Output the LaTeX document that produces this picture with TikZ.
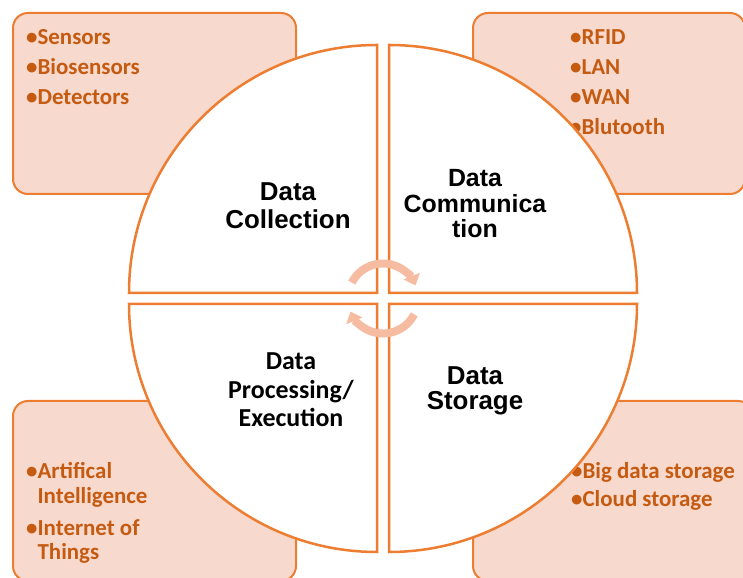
\documentclass[tikz,border=0pt]{standalone}
\usepackage{fontspec}
\setmainfont{Carlito}
\newfontfamily\headfont{Liberation Sans}
\usetikzlibrary{arrows.meta}
\definecolor{qorange}{RGB}{237,125,49}
\definecolor{qpeach}{RGB}{248,217,205}
\definecolor{qtext}{RGB}{197,90,17}
\definecolor{qarrow}{RGB}{245,188,162}
\begin{document}
\begin{tikzpicture}[x=1bp,y=1bp,
	infobox/.style={draw=qorange, line width=2bp, fill=qpeach, rounded corners=15bp, anchor=south west, inner sep=0pt},
	quarter/.style={draw=qorange, line width=2.5bp, fill=white},
	items/.style={anchor=base west, align=left, inner sep=0pt, text=qtext, font=\bfseries\fontsize{23}{30.3}\selectfont},
	title/.style={anchor=base, align=center, inner sep=0pt},
	turn/.style={draw=qarrow, line width=8bp, -{Triangle[width=17bp,length=10bp]}}]

\useasboundingbox (0,0) rectangle (743,578);

% corner boxes
\foreach \name\x\y\w\h in {collbox/12/383/283/181,commbox/472/383/272/181,procbox/12/-4/283/180,storbox/472/-4/280/180}{
	\node[infobox, minimum width=\w bp, minimum height=\h bp] (\name) at (\x,\y) {};
}

% lists, placed by their last line
\node[items] (sensors) at (26,473) {•Sensors\\•Biosensors\\•Detectors};
\node[items] (networks) at (570,443) {•RFID\\•LAN\\•WAN\\•Blutooth};
\node[items, font=\bfseries\fontsize{23}{25}\selectfont] (methods) at (26,18)
	{•Artifical\\\phantom{•}Intelligence\\[7bp]•Internet of\\\phantom{•}Things};
\node[items, font=\bfseries\fontsize{23}{29}\selectfont] (stores) at (571,71) {•Big data storage\\•Cloud storage};

% four quarters of the circle
\foreach \cx\cy\s\e in {377/285/180/90,389/285/90/0,377/274/180/270,389/274/0/-90}{
	\draw[quarter] (\cx,\cy) -- ++(\s:248) arc[start angle=\s, end angle=\e, radius=248] -- cycle;
}

\node[title, font=\headfont\bfseries\fontsize{26}{28}\selectfont] (collect) at (288,349.7) {Data\\Collection};
\node[title, font=\headfont\bfseries\fontsize{25}{26}\selectfont] (commun) at (475,340) {Data\\Communica\\tion};
\node[title, font=\bfseries\fontsize{26}{29}\selectfont] (process) at (291,151) {Data\\Processing/\\Execution};
\node[title, font=\headfont\bfseries\fontsize{26}{25}\selectfont] (store) at (475,168.7) {Data\\Storage};

% turning arrows
\coordinate (hub) at (383,279.5);
\draw[turn] ([shift={(153:35)}]hub) arc[start angle=153, end angle=22, radius=35];
\draw[turn] ([shift={(-27:35)}]hub) arc[start angle=-27, end angle=-158, radius=35];

\end{tikzpicture}
\end{document}
